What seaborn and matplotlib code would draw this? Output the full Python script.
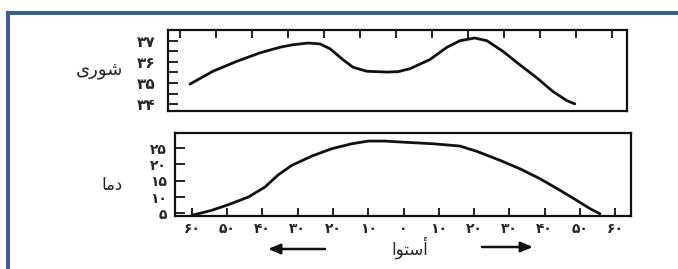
import numpy as np
import pandas as pd
import matplotlib
matplotlib.use("Agg")
import matplotlib.pyplot as plt
from matplotlib.patches import Rectangle, FancyArrowPatch
import seaborn as sns

# ---- data ----
sal_lat = [-57.2, -50.8, -44.2, -37.8, -32.2, -28.6, -24.4, -21.1, -18.3, -14.7, -11.9, -8.1, -2.5, 0.6,
           3.9, 9.4, 14.2, 17.8, 21.9, 25.3, 29.7, 34.4, 39.2, 43.6, 47.5, 49.7]
sal_val = [34.95, 35.56, 36.03, 36.43, 36.70, 36.82, 36.90, 36.86, 36.63, 36.11, 35.75, 35.56, 35.52, 35.54,
           35.68, 36.11, 36.70, 37.01, 37.14, 37.01, 36.51, 35.87, 35.24, 34.60, 34.16, 34.01]

tmp_lat = [-60.0, -54.4, -49.7, -44.0, -39.3, -35.5, -31.7, -26.0, -20.4, -14.7, -10.0, -5.3, -0.5, 8.5,
           16.0, 20.8, 27.4, 33.0, 38.7, 44.4, 49.1, 52.9, 55.7]
tmp_val = [4.40, 5.93, 7.65, 10.0, 13.06, 16.82, 19.69, 22.54, 24.77, 26.30, 27.13, 27.13, 26.82, 26.30,
           25.60, 23.98, 21.22, 18.65, 15.60, 12.05, 8.99, 6.42, 4.89]

lat_ticks = [-60, -50, -40, -30, -20, -10, 0, 10, 20, 30, 40, 50, 60]
lat_labels = ["۶۰", "۵۰", "۴۰", "۳۰", "۲۰", "۱۰", "۰", "۱۰", "۲۰", "۳۰", "۴۰", "۵۰", "۶۰"]
sal_ticks = [34, 35, 36, 37]
sal_labels = ["۳۴", "۳۵", "۳۶", "۳۷"]
sal_minor = [34.5, 35.5, 36.5]
tmp_ticks = [5, 10, 15, 20, 25]
tmp_labels = ["۵", "۱۰", "۱۵", "۲۰", "۲۵"]

# Persian labels (Arabic presentation forms, visual order)
lbl_sal = "\uFEEF\uFEAD\uFEEE\uFEB7"      # شوری
lbl_tmp = "\uFE8E\uFEE3\uFEA9"            # دما
lbl_eq = "\uFE8D\uFEEE\uFE98\uFEB3\uFE83"  # أستوا

sns.set_theme(style="white")
plt.rcParams["font.family"] = ["DejaVu Sans"]

W, H = 678, 269
fig = plt.figure(figsize=(W / 100, H / 100), dpi=100)
fig.patch.set_facecolor("white")

def fx(px):
    return px / W

def fy(py):
    return 1 - py / H

ax1 = fig.add_axes([fx(168), fy(111), fx(627) - fx(168), fy(30) - fy(111)])
ax2 = fig.add_axes([fx(175), fy(216), fx(631) - fx(175), fy(133) - fy(216)])

df1 = pd.DataFrame({"lat": sal_lat, "val": sal_val})
df2 = pd.DataFrame({"lat": tmp_lat, "val": tmp_val})
sns.lineplot(data=df1, x="lat", y="val", ax=ax1, color="#111111", lw=2.0, sort=False)
sns.lineplot(data=df2, x="lat", y="val", ax=ax2, color="#111111", lw=2.0, sort=False)

for ax in (ax1, ax2):
    for s in ax.spines.values():
        s.set_visible(True)
        s.set_color("#111111")
        s.set_linewidth(1.6)
    ax.set_xlabel("")
    ax.set_ylabel("")
    ax.set_facecolor("white")

# top panel
ax1.set_xlim(-63.3, 64.2)
ax1.set_ylim(33.67, 37.52)
ax1.set_xticks(lat_ticks)
ax1.xaxis.set_ticks_position("top")
ax1.tick_params(axis="x", which="both", direction="in", length=6, width=1.3,
                top=True, bottom=False, labeltop=False, labelbottom=False, color="#111111")
ax1.set_yticks(sal_ticks)
ax1.set_yticklabels(sal_labels)
ax1.set_yticks(sal_minor, minor=True)
ax1.tick_params(axis="y", which="both", direction="in", length=7, width=1.3,
                left=True, color="#111111", pad=9, labelsize=11)
for t in ax1.get_yticklabels():
    t.set_fontweight("bold")

# bottom panel
ax2.set_xlim(-64.8, 64.5)
ax2.set_ylim(4.2, 29.6)
ax2.set_xticks(lat_ticks)
ax2.set_xticklabels(lat_labels)
ax2.tick_params(axis="x", which="both", direction="in", length=6, width=1.3,
                bottom=True, color="#111111", pad=4, labelsize=10)
ax2.set_yticks(tmp_ticks)
ax2.set_yticklabels(tmp_labels)
ax2.tick_params(axis="y", which="both", direction="in", length=7, width=1.3,
                left=True, color="#111111", pad=6, labelsize=10)
for t in ax2.get_xticklabels() + ax2.get_yticklabels():
    t.set_fontweight("bold")

# side labels
fig.text(fx(100), fy(70), lbl_sal, ha="center", va="center", fontsize=13)
fig.text(fx(112), fy(185), lbl_tmp, ha="center", va="center", fontsize=12)
fig.text(fx(410), fy(248), lbl_eq, ha="center", va="center", fontsize=12)

# arrows
arrow_kw = dict(arrowstyle="-|>,head_length=0.6,head_width=0.25", color="#111111", lw=1.8,
                mutation_scale=12, shrinkA=0, shrinkB=0)
fig.add_artist(FancyArrowPatch((fx(325), fy(249)), (fx(268), fy(249)),
                               transform=fig.transFigure, **arrow_kw))
fig.add_artist(FancyArrowPatch((fx(482), fy(247)), (fx(533), fy(247)),
                               transform=fig.transFigure, **arrow_kw))

# blue frame
blue = "#3b5e8c"
fig.add_artist(Rectangle((fx(6), 0), fx(4), fy(11), transform=fig.transFigure, color=blue, lw=0))
fig.add_artist(Rectangle((fx(6), fy(15)), 1 - fx(6), fy(11) - fy(15), transform=fig.transFigure, color=blue, lw=0))

fig.savefig("out.png", dpi=100, facecolor="white")
